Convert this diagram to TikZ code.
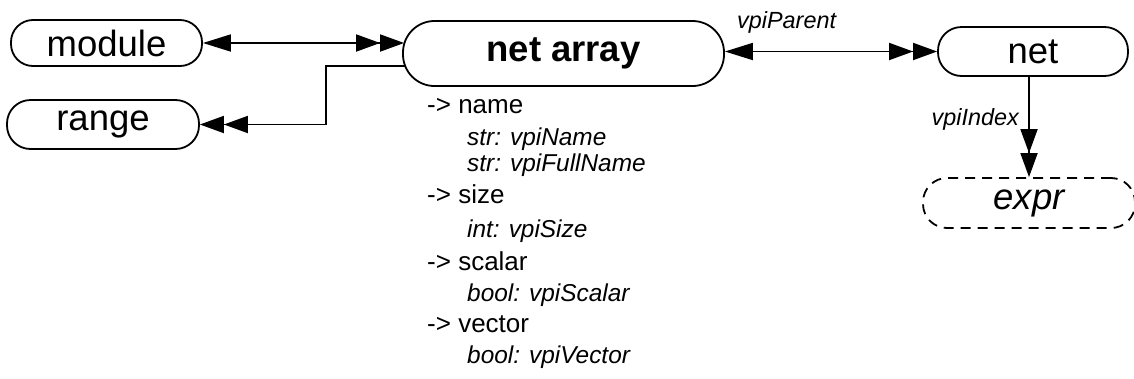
\documentclass[tikz,border=0pt]{standalone}
\usepackage{fontspec}
\setmainfont{Liberation Sans}
\usetikzlibrary{arrows.meta,calc}
\tikzset{
  box/.style={draw, line width=1.8pt, inner sep=0pt, font=\fontsize{36.5}{42}\selectfont},
  conn/.style={line width=1.8pt},
  tipone/.tip={Triangle[length=28pt,width=17pt]},
  tipmany/.tip={Triangle[length=24pt,width=17pt]Triangle[length=24pt,width=17pt]},
  onemany/.style={arrows={tipone-tipmany}},
  tomany/.style={arrows={-tipmany}},
  mainitem/.style={anchor=base west, inner sep=0pt, font=\fontsize{26}{30}\selectfont},
  subitem/.style={anchor=base west, inner sep=0pt, font=\fontsize{24.4}{28}\selectfont\itshape},
  lbl/.style={inner sep=0pt, font=\fontsize{23.4}{28}\selectfont\itshape}
}
\begin{document}
\begin{tikzpicture}[x=1pt,y=-1pt]
\useasboundingbox (0,0) rectangle (1134,378);
% nodes
\node[box, minimum width=191pt, minimum height=46pt, rounded corners=22pt] (module) at (106.5,43) {module};
\node[box, minimum width=192pt, minimum height=49pt, rounded corners=23.5pt] (range) at (103,124.5) {range};
\node[box, minimum width=321pt, minimum height=65pt, rounded corners=31.5pt, font=\fontsize{36.5}{42}\selectfont\bfseries] (netarray) at (563.5,53.5) {net array};
\node[box, minimum width=190pt, minimum height=49pt, rounded corners=23.5pt] (net) at (1033,51.5) {net};
\node[box, dash pattern=on 10pt off 7pt, minimum width=212pt, minimum height=50pt, rounded corners=24pt, font=\fontsize{36.5}{42}\selectfont\itshape] (expr) at (1029,203) {expr};
% helper coordinates
\coordinate (na1) at ($(netarray.west |- module.east)+(2,0)$);
\coordinate (na2) at ($(netarray.west)+(2.5,12.5)$);
\coordinate (kink) at (326,66);
% connectors
\draw[conn, onemany] (module.east) -- (na1);
\draw[conn, tomany] (na2) -- (kink) |- (range.east);
\draw[conn, onemany] (netarray.east |- net.west) -- (net.west);
\draw[conn, tomany] (net.south -| expr.north) -- (expr.north);
% labels
\node[lbl, anchor=base west] (lparent) at (737,28) {vpiParent};
\node[lbl, anchor=base east] (lindex) at (1019,125) {vpiIndex};
% attribute list
\node[mainitem] (a1) at (427,113) {-> name};
\node[subitem] (a1s1) at (467,145) {str: vpiName};
\node[subitem] (a1s2) at (467,171) {str: vpiFullName};
\node[mainitem] (a2) at (427,203) {-> size};
\node[subitem] (a2s1) at (467,237) {int: vpiSize};
\node[mainitem] (a3) at (427,270) {-> scalar};
\node[subitem] (a3s1) at (467,301) {bool: vpiScalar};
\node[mainitem] (a4) at (427,332) {-> vector};
\node[subitem] (a4s1) at (467,363) {bool: vpiVector};
\end{tikzpicture}
\end{document}
